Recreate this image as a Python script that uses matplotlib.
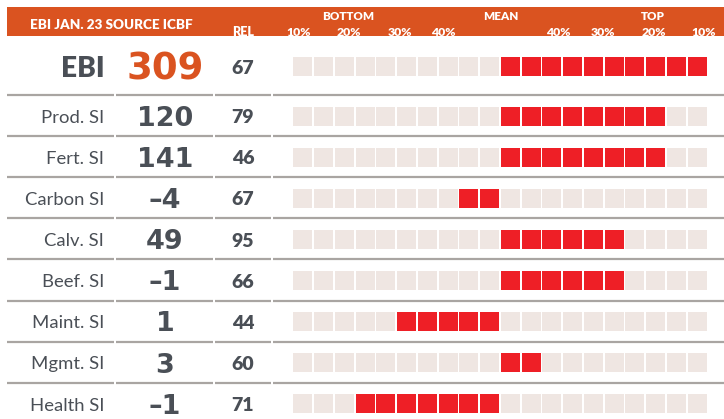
import matplotlib

matplotlib.use("Agg")
import matplotlib.pyplot as plt
from matplotlib.patches import Rectangle

# --- data ------------------------------------------------------------------
LABELS = ["EBI", "Prod. SI", "Fert. SI", "Carbon SI", "Calv. SI", "Beef. SI",
          "Maint. SI", "Mgmt. SI", "Health SI"]
VALUES = ["309", "120", "141", "–4", "49", "–1", "1", "3", "–1"]
REL = [67, 79, 46, 67, 95, 66, 44, 60, 71]
# first / last highlighted square (0..19, mean sits between 9 and 10)
RED_FIRST = [10, 10, 10, 8, 10, 10, 5, 10, 3]
RED_LAST = [19, 17, 17, 9, 15, 15, 9, 11, 9]
N_SQUARES = 20
PCT_TICKS = ["10%", "20%", "30%", "40%", "40%", "30%", "20%", "10%"]
PCT_X = [298.7, 348.7, 399.7, 443.7, 558, 603, 653.7, 704]
GROUPS = ["BOTTOM", "MEAN", "TOP"]
GROUP_X = [348.5, 501, 653]

# --- styles ------------------------------------------------------------------
W, H = 724, 419
ORANGE = "#DA5320"
RED = "#EE1F26"
EMPTY = "#EFE6E2"
TEXT = "#4A4F56"
RULE = "#A9A5A2"
FONT = "Lato"
NUM_FONT = "DejaVu Sans"

fig = plt.figure(figsize=(W / 100, H / 100), dpi=100)
ax = fig.add_axes([0, 0, 1, 1])
ax.set_xlim(0, W)
ax.set_ylim(H, 0)
ax.axis("off")

# header band
ax.add_patch(Rectangle((7, 7), W - 7, 29.5, color=ORANGE, lw=0))
ax.text(111, 25, "EBI JAN. 23 SOURCE ICBF", color="white", fontsize=9.7,
        fontweight="heavy", family=FONT, ha="center", va="center")
ax.text(243.5, 32, "REL", color="white", fontsize=9.0, fontweight="heavy",
        family=FONT, ha="center", va="center")
for g, x in zip(GROUPS, GROUP_X):
    ax.text(x, 17, g, color="white", fontsize=8.4, fontweight="heavy",
            family=FONT, ha="center", va="center")
for t, x in zip(PCT_TICKS, PCT_X):
    ax.text(x, 32, t, color="white", fontsize=8.8, fontweight="heavy",
            family=FONT, ha="center", va="center")

# rows
x0, pitch, size = 293.3, 20.76, 19.0
row_pitch = 41.1
centers = [66.5] + [116.2 + row_pitch * i for i in range(len(LABELS) - 1)]


def put(x, y, s, px, family=FONT, **kw):
    """Place text so its cap height is centred on y (px = em size in pixels)."""
    ax.text(x, y + 0.36 * px, s, fontsize=px * 0.72, family=family,
            va="baseline", **kw)


for i, (lab, val, rel) in enumerate(zip(LABELS, VALUES, REL)):
    cy = centers[i]
    if i == 0:
        put(105, cy, lab, 28, ha="right", color=TEXT, fontweight="heavy")
        put(165, cy, val, 37, family=NUM_FONT, ha="center", color=ORANGE,
            fontweight="bold")
    else:
        put(104, cy, lab, 18.5, ha="right", color=TEXT)
        put(165, cy, val, 27, family=NUM_FONT, ha="center", color=TEXT,
            fontweight="bold")
    put(243, cy, str(rel), 19.5, ha="center", color=TEXT, fontweight="heavy")
    for k in range(N_SQUARES):
        on = RED_FIRST[i] <= k <= RED_LAST[i]
        ax.add_patch(Rectangle((x0 + k * pitch, cy - size / 2), size, size,
                               facecolor=RED if on else EMPTY,
                               edgecolor="none"))

# separator rules, split at the table's column boundaries
segments = [(7, 114), (116, 213), (215, 271), (273, W)]
for k in range(len(LABELS) - 1):
    y = 95 + row_pitch * k
    for a, b in segments:
        ax.plot([a, b], [y, y], color=RULE, lw=1.6, solid_capstyle="butt")

fig.savefig("out.png", dpi=100)
